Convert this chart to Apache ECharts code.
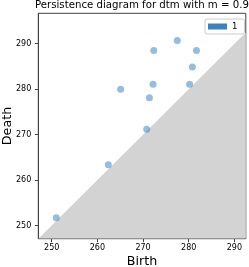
<!DOCTYPE html>
<html>
<head>
<meta charset="utf-8">
<script src="https://cdn.jsdelivr.net/npm/echarts@6/dist/echarts.min.js"></script>
<style>html,body{margin:0;padding:0;background:#fff}#c{width:249px;height:267px}</style>
</head>
<body>
<div id="c"></div>
<script>
var births = [251.0, 262.4, 270.8, 271.4, 265.1, 272.2, 280.2, 280.8, 272.35, 281.7, 277.5];
var deaths = [251.7, 263.4, 271.2, 278.1, 280.0, 281.1, 281.1, 284.9, 288.5, 288.5, 290.7];
var xTicks = [250, 260, 270, 280, 290];
var yTicks = [250, 260, 270, 280, 290];
var xRange = [247.07, 292.5];
var yRange = [247.1, 296.7];
var seriesName = '1';
var titleText = 'Persistence diagram for dtm with m = 0.9';

var pts = births.map(function (b, i) { return [b, deaths[i]]; });
var diag = [[xRange[0], xRange[0]], [xRange[1], xRange[1]]];

var chart = echarts.init(document.getElementById('c'), null, {renderer: 'canvas'});
var axisCommon = {
  type: 'value',
  nameLocation: 'middle',
  nameMoveOverlap: false,
  nameTextStyle: {fontFamily: 'DejaVu Sans', fontSize: 12.7, color: '#000'},
  axisLine: {show: true, onZero: false, lineStyle: {color: '#444', width: 1}},
  axisTick: {show: true, length: 3.5, lineStyle: {color: '#444', width: 1}},
  axisLabel: {fontFamily: 'DejaVu Sans', fontSize: 8, color: '#000'},
  splitLine: {show: false}
};
chart.setOption({
  animation: false,
  title: {
    text: titleText, left: 35, top: 0, padding: 0,
    textStyle: {fontFamily: 'DejaVu Sans', fontSize: 10.2, fontWeight: 'normal', color: '#000'}
  },
  legend: {
    data: [{name: seriesName, icon: 'rect', itemStyle: {color: '#3b80bf', opacity: 1}}],
    left: 205, top: 19, padding: [3, 7, 3, 3],
    itemWidth: 19, itemHeight: 6, itemGap: 5,
    borderColor: '#ccc', borderWidth: 1, borderRadius: 2, backgroundColor: '#fff',
    textStyle: {fontFamily: 'DejaVu Sans', fontSize: 8.5, color: '#000'}
  },
  grid: {left: 38.3, top: 13.3, width: 207.5, height: 225.4, containLabel: false,
         outerBoundsMode: 'none',
         show: true, borderColor: '#444', borderWidth: 1},
  xAxis: Object.assign({}, axisCommon, {
    min: xRange[0], max: xRange[1], name: 'Birth', nameGap: 16.5,
    axisTick: Object.assign({}, axisCommon.axisTick, {customValues: xTicks}),
    axisLabel: Object.assign({}, axisCommon.axisLabel, {customValues: xTicks, margin: 5})
  }),
  yAxis: Object.assign({}, axisCommon, {
    min: yRange[0], max: yRange[1], name: 'Death', nameGap: 24,
    axisTick: Object.assign({}, axisCommon.axisTick, {customValues: yTicks}),
    axisLabel: Object.assign({}, axisCommon.axisLabel, {customValues: yTicks, margin: 7})
  }),
  series: [
    {
      type: 'line', data: diag, symbol: 'none', silent: true,
      lineStyle: {width: 0},
      areaStyle: {color: '#d3d3d3', opacity: 1, origin: 'start'},
      z: 1
    },
    {
      name: seriesName, type: 'scatter', data: pts, symbolSize: 7,
      itemStyle: {color: 'rgba(31,119,180,0.6)'}, z: 3
    }
  ]
});
</script>
</body>
</html>
